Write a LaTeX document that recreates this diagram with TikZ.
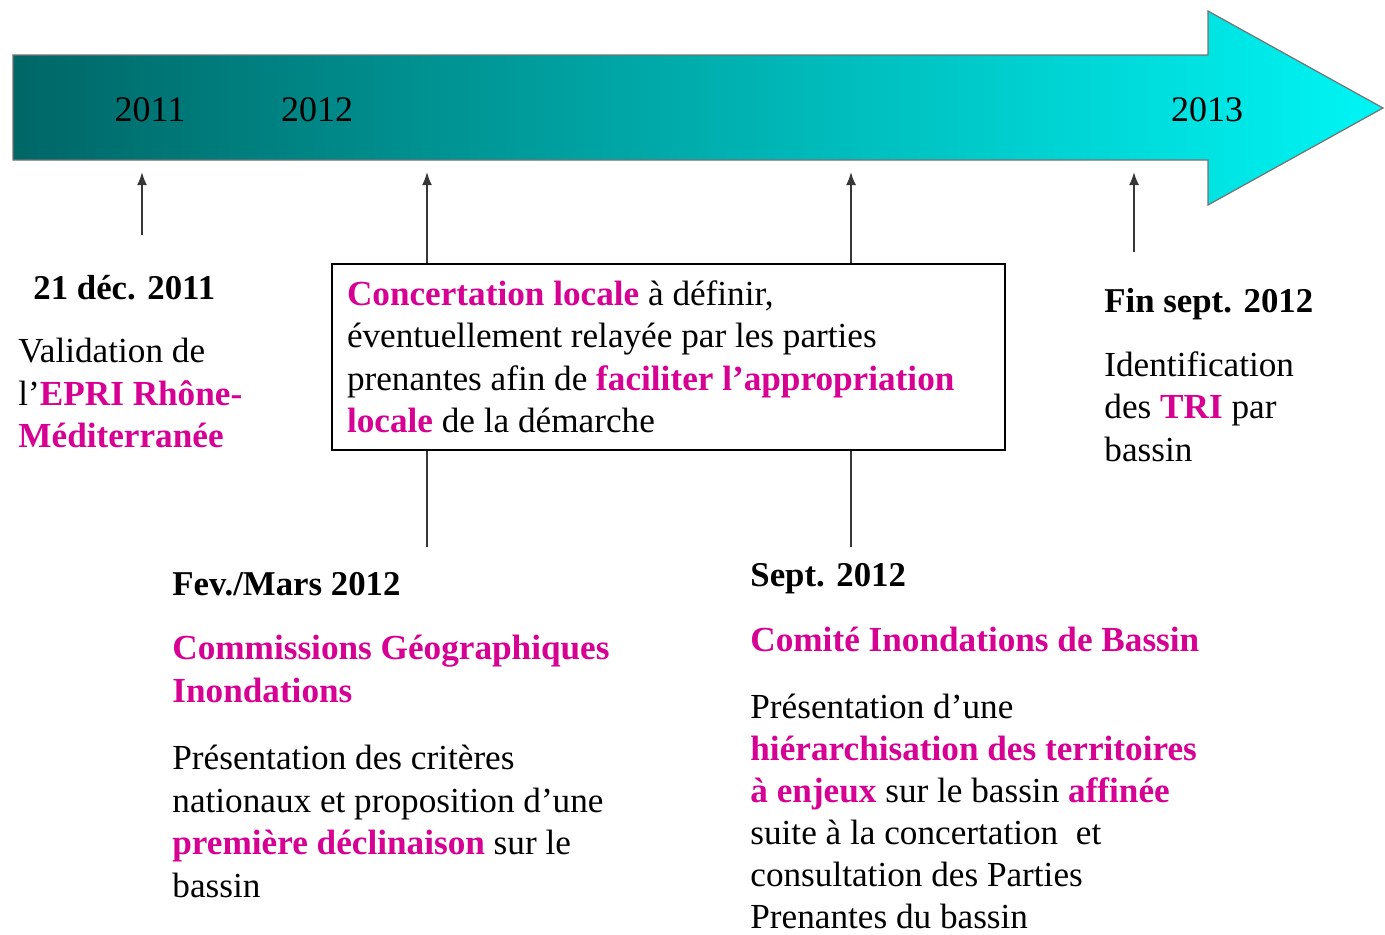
\documentclass[tikz,border=0pt]{standalone}
\usepackage{fontspec}
\setmainfont{Liberation Serif}
\definecolor{tealdark}{RGB}{0, 102, 102}
\definecolor{aqua}{RGB}{0, 245, 245}
\definecolor{rosepink}{RGB}{214, 0, 147}
\definecolor{linegray}{RGB}{55, 55, 55}
\usetikzlibrary{arrows.meta, positioning}
\newcommand{\hl}[1]{\textcolor{rosepink}{\textbf{#1}}}
\tikzset{
	yearlabel/.style={anchor=base, inner sep=0pt, font=\fontsize{18}{21}\selectfont},
	datelabel/.style={anchor=base west, inner sep=0pt, font=\fontsize{17.4}{21}\selectfont\bfseries},
	titletext/.style={anchor=north west, inner sep=0pt, align=left, text=rosepink, font=\fontsize{17.6}{21.25}\selectfont\bfseries},
	bodytext/.style={anchor=north west, inner sep=0pt, align=left, font=\fontsize{17.6}{21.25}\selectfont},
	notebox/.style={rectangle, draw=black, line width=0.8pt, fill=white, align=flush left, text width=321.5pt, inner xsep=7.5pt, minimum height=93pt, font=\fontsize{17.6}{21.25}\selectfont},
	uparrow/.style={-{Latex[length=6.5pt, width=5pt]}, line width=0.9pt, draw=linegray},
	stem/.style={line width=0.9pt, draw=linegray},
}

\begin{document}
\begin{tikzpicture}[x=0.5pt, y=-0.5pt]
		\useasboundingbox (0,0) rectangle (1385,934);
		% timeline arrow
		\shade[left color=tealdark, right color=aqua, draw=black!55, line width=0.6pt]
			(13,55) -- (1208,55) -- (1208,11) -- (1383,108) -- (1208,205) -- (1208,160) -- (13,160) -- cycle;
		\node[yearlabel] (y11) at (150,121) {2011};
		\node[yearlabel] (y12) at (317,121) {2012};
		\node[yearlabel] (y13) at (1207,121) {2013};
		% milestones
		\coordinate (tip1) at (142,172);
		\coordinate (tip2) at (427,172);
		\coordinate (tip3) at (851,172);
		\coordinate (tip4) at (1134,172);
		\coordinate (foot1) at (142,235);
		\coordinate (foot2) at (427,547);
		\coordinate (foot3) at (851,547);
		\coordinate (foot4) at (1134,252);
		\node[notebox] (concert) at (668.5,357) {\hl{Concertation locale} à définir,\\
			éventuellement relayée par les parties\\
			prenantes afin de \hl{faciliter l’appropriation}\\
			\hl{locale} de la démarche};
		\draw[uparrow] (foot1) -- (tip1);
		\draw[uparrow] (concert.north -| tip2) -- (tip2);
		\draw[uparrow] (concert.north -| tip3) -- (tip3);
		\draw[uparrow] (foot4) -- (tip4);
		\draw[stem] (concert.south -| foot2) -- (foot2);
		\draw[stem] (concert.south -| foot3) -- (foot3);
		% 21 dec. 2011
		\node[datelabel] (d1) at (33,299) {21 déc. 2011};
		\node[bodytext] (b1) at (18,338) {Validation de\\
			l’\hl{EPRI Rhône-}\\
			\hl{Méditerranée}};
		% fin sept. 2012
		\node[datelabel] (d4) at (1104,312) {Fin sept. 2012};
		\node[bodytext] (b4) at (1104,351) {Identification\\
			des \hl{TRI} par\\
			bassin};
		% fev./mars 2012
		\node[datelabel] (d2) at (172,595) {Fev./Mars 2012};
		\node[titletext] (t2) at (172,635) {Commissions Géographiques\\
			Inondations};
		\node[bodytext] (b2) at (172,745) {Présentation des critères\\
			nationaux et proposition d’une\\
			\hl{première déclinaison} sur le\\
			bassin};
		% sept. 2012
		\node[datelabel] (d3) at (750,586) {Sept. 2012};
		\node[titletext] (t3) at (750,627) {Comité Inondations de Bassin};
		\node[bodytext, font=\fontsize{17.6}{21}\selectfont] (b3) at (750,694) {Présentation d’une\\
			\hl{hiérarchisation des territoires}\\
			\hl{à enjeux} sur le bassin \hl{affinée}\\
			suite à la concertation~ et\\
			consultation des Parties\\
			Prenantes du bassin};
	\end{tikzpicture}
\end{document}
